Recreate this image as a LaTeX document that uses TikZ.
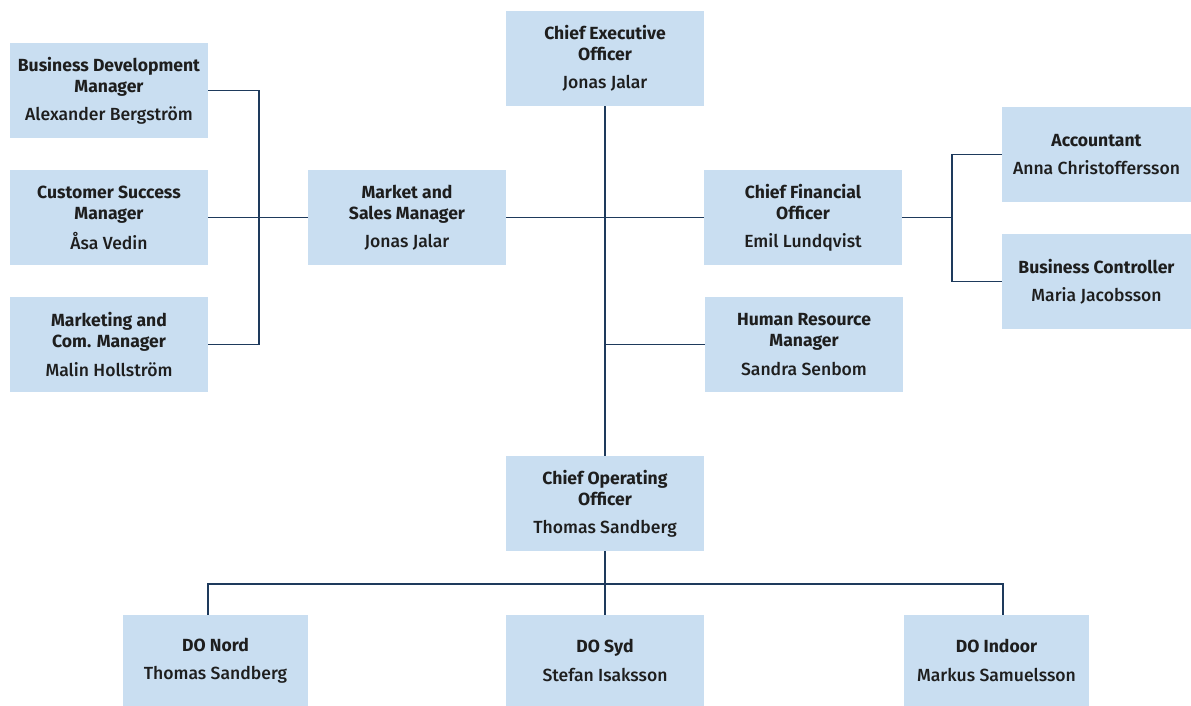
\documentclass[tikz,border=0pt]{standalone}
\usepackage{fontspec}
\setmainfont{Fira Sans}
\newfontfamily\medfont{Fira Sans Medium}
\usepackage{tikz}
\usepackage{xcolor}
\usetikzlibrary{positioning, calc}
\definecolor{BoxBlue}{HTML}{C9DEF1}
\definecolor{Navy}{HTML}{1E3A5C}
\definecolor{Ink}{HTML}{1E1E1E}
\newcommand{\roleone}[2]{\textbf{#1}\\[4pt]{\medfont #2}}
\newcommand{\roletwo}[3]{\textbf{#1}\\\textbf{#2}\\[4pt]{\medfont #3}}

\begin{document}
\begin{tikzpicture}
    \tikzset{
        role/.style={rectangle, fill=BoxBlue, minimum width=3.96cm,
                     minimum height=1.9cm, inner sep=0pt, text=Ink,
                     font=\fontsize{10}{12}\selectfont, align=center},
        narrow/.style={role, minimum width=3.7cm},
        link/.style={draw=Navy, line width=0.8pt}
    }
    \useasboundingbox (0,0) rectangle (23.82,-14.12);

    % Top management
    \node[role] (ceo) at (12.10,-1.17) {\roletwo{Chief Executive}{Officer}{Jonas Jalar}};
    \node[role] (msm) at (8.14,-4.35) {\roletwo{Market and}{Sales Manager}{Jonas Jalar}};
    \node[role] (cfo) at (16.06,-4.35) {\roletwo{Chief Financial}{Officer}{Emil Lundqvist}};
    \node[role] (hrm) at (16.08,-6.89) {\roletwo{Human Resource}{Manager}{Sandra Senbom}};
    \node[role] (coo) at (12.10,-10.07) {\roletwo{Chief Operating}{Officer}{Thomas Sandberg}};

    % Sales side
    \node[role] (bdm) at (2.18,-1.81) {\roletwo{Business Development}{Manager}{Alexander Bergström}};
    \node[role] (csm) at (2.18,-4.35) {\roletwo{Customer Success}{Manager}{Åsa Vedin}};
    \node[role] (mcm) at (2.18,-6.89) {\roletwo{Marketing and}{Com. Manager}{Malin Hollström}};

    % Finance side
    \node[role, minimum width=3.78cm] (acc) at (21.93,-3.09) {\roleone{Accountant}{Anna Christoffersson}};
    \node[role, minimum width=3.78cm] (bc) at (21.93,-5.63) {\roleone{Business Controller}{Maria Jacobsson}};

    % Operations
    \node[narrow, minimum height=1.82cm] (nord) at (4.31,-13.21) {\roleone{DO Nord}{Thomas Sandberg}};
    \node[role, minimum height=1.82cm] (syd) at (12.10,-13.21) {\roleone{DO Syd}{Stefan Isaksson}};
    \node[narrow, minimum height=1.82cm] (indoor) at (19.93,-13.21) {\roleone{DO Indoor}{Markus Samuelsson}};

    % Junctions
    \coordinate (lbus) at (5.18,-4.35);
    \coordinate (rbus) at (19.04,-4.35);
    \coordinate (dbus) at (12.10,-11.68);

    % Connectors
    \draw[link] (bdm.east) -| (lbus) |- (mcm.east);
    \draw[link] (csm.east) -- (msm.west);
    \draw[link] (msm.east) -- (cfo.west);
    \draw[link] (ceo.south) -- (coo.north);
    \draw[link] (hrm.west) -- (hrm.west -| ceo.south);
    \draw[link] (cfo.east) -- (rbus);
    \draw[link] (acc.west) -| (rbus) |- (bc.west);
    \draw[link] (coo.south) -- (syd.north);
    \draw[link] ([xshift=-0.15cm]nord.north) |- (dbus) -| ([xshift=0.13cm]indoor.north);
\end{tikzpicture}
\end{document}
